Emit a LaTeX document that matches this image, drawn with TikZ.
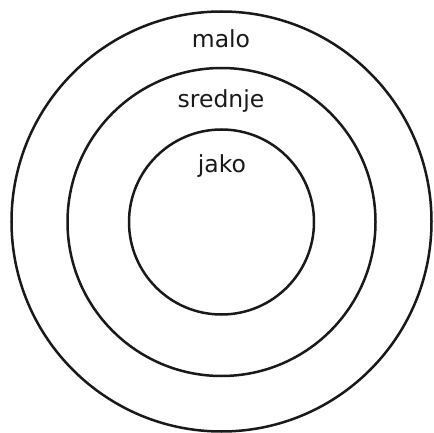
\documentclass[tikz,border=0pt]{standalone}
\usepackage{fontspec}
\setmainfont{DejaVu Sans}
\begin{document}
\begin{tikzpicture}[x=1pt,y=-1pt,
  ring/.style={circle,draw=black!90,line width=2.5pt,inner sep=0pt},
  lbl/.style={anchor=base,font=\fontsize{23.5}{28}\selectfont,text=black!90,inner sep=0pt}]
\useasboundingbox (0,0) rectangle (434,433);
\node[ring,minimum size=420pt] (outer) at (221.5,221.5) {};
\node[ring,minimum size=308pt] (middle) at (221.5,222) {};
\node[ring,minimum size=185pt] (inner) at (221.5,222) {};
\node[lbl] (malo) at (221,48) {malo};
\node[lbl] (srednje) at (221,108) {srednje};
\node[lbl] (jako) at (222,172) {jako};
\end{tikzpicture}
\end{document}
